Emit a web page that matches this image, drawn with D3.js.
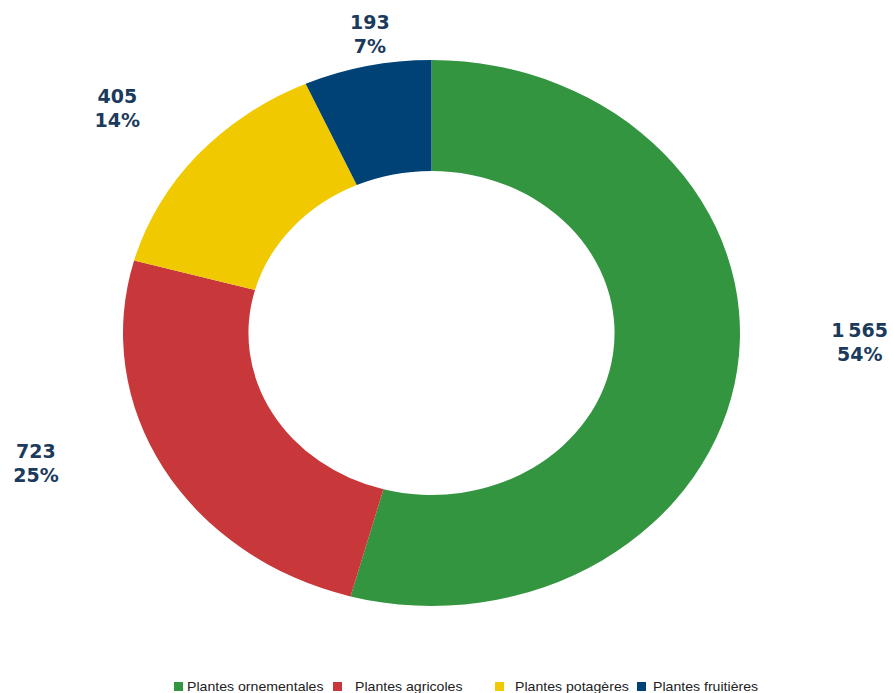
<!DOCTYPE html>
<html lang="fr">
<head>
  <meta charset="UTF-8">
  <title>Plantes</title>
  <style>
    body { margin: 0; background: #fff; }
    .label { font-family: "DejaVu Sans", Verdana, sans-serif; font-weight: bold; font-size: 19px; fill: #1b3a5c; }
    .legend text { font-family: "Liberation Sans", Arial, sans-serif; font-size: 12.5px; fill: #222; }
  </style>
</head>
<body>
  <div id="chart"></div>
  <script src="https://d3js.org/d3.v7.min.js"></script>
  <script>
    // data
    const categories = ['Plantes ornementales', 'Plantes agricoles', 'Plantes potagères', 'Plantes fruitières'];
    const values = [1565, 723, 405, 193];
    const valueLabels = ['1\u202F565', '723', '405', '193'];
    const percentLabels = ['54%', '25%', '14%', '7%'];
    const colors = ['#339540', '#c8373a', '#f0c900', '#004276'];

    const width = 893, height = 693;
    const cx = 431.5, cy = 333;
    const outerR = 273, innerR = 162, stretchX = 1.13;

    // label placement (best-fit style): base ellipse + small nudges
    const labelRx = 430, labelRy = 300;
    const nudges = [[2, -36], [-22, -24], [12, -35], [28, -11]];
    // legend layout (square x, text x)
    const legendX = [174, 333, 495, 637];
    const legendTextX = [187, 355, 515, 653];
    const legendY = 691;

    const svg = d3.select('#chart').append('svg')
      .attr('width', width)
      .attr('height', height);

    const pie = d3.pie().sort(null).value(d => d)(values);
    const arc = d3.arc().innerRadius(innerR).outerRadius(outerR);

    const g = svg.append('g')
      .attr('transform', `translate(${cx},${cy}) scale(${stretchX},1)`);

    g.selectAll('path')
      .data(pie)
      .enter()
      .append('path')
      .attr('d', arc)
      .attr('fill', (d, i) => colors[i]);

    // labels
    pie.forEach((d, i) => {
      const a = (d.startAngle + d.endAngle) / 2;
      const x = cx + Math.sin(a) * labelRx + nudges[i][0];
      const y = cy - Math.cos(a) * labelRy + nudges[i][1];
      const t = svg.append('text')
        .attr('class', 'label')
        .attr('text-anchor', 'middle')
        .attr('x', x)
        .attr('y', y);
      t.append('tspan').attr('x', x).attr('dy', 0).text(valueLabels[i]);
      t.append('tspan').attr('x', x).attr('dy', 24.5).text(percentLabels[i]);
    });

    // legend (text stretched like the rest of the picture)
    const legend = svg.append('g').attr('class', 'legend');
    categories.forEach((c, i) => {
      legend.append('rect')
        .attr('x', legendX[i]).attr('y', legendY - 9)
        .attr('width', 9).attr('height', 9)
        .attr('fill', colors[i]);
      legend.append('text')
        .attr('transform', `translate(${legendTextX[i]},${legendY}) scale(${stretchX},1)`)
        .text(c);
    });
  </script>
</body>
</html>
